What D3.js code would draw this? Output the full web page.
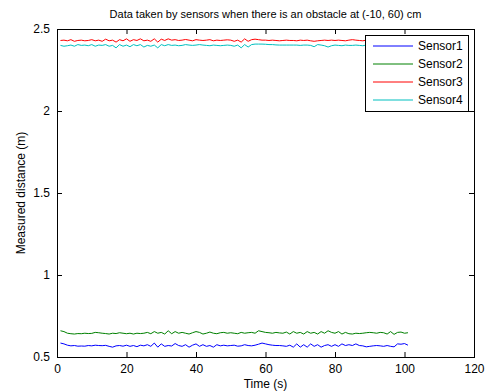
<!DOCTYPE html>
<html>
<head>
<meta charset="utf-8">
<script src="https://cdn.jsdelivr.net/npm/d3@7"></script>
<style>
  body { margin: 0; background: #fff; }
  text { font-family: "Liberation Sans", Arial, sans-serif; fill: #000; }
</style>
</head>
<body>
<svg id="chart" width="485" height="391"></svg>
<script>
// readings, one per second starting at t = 1
const sensor1 = [
  0.585,0.580,0.572,0.568,0.570,0.566,0.567,0.566,0.570,0.568,
  0.572,0.570,0.569,0.571,0.565,0.560,0.568,0.570,0.566,0.572,
  0.565,0.570,0.563,0.572,0.568,0.575,0.565,0.585,0.560,0.580,
  0.565,0.570,0.567,0.582,0.570,0.565,0.575,0.560,0.572,0.580,
  0.565,0.575,0.565,0.570,0.560,0.575,0.568,0.572,0.568,0.570,
  0.572,0.566,0.568,0.575,0.570,0.568,0.572,0.578,0.585,0.580,
  0.575,0.572,0.570,0.570,0.568,0.565,0.572,0.560,0.580,0.560,
  0.575,0.560,0.580,0.565,0.575,0.560,0.570,0.575,0.565,0.575,
  0.565,0.580,0.570,0.575,0.570,0.580,0.570,0.568,0.562,0.565,
  0.568,0.570,0.568,0.565,0.570,0.565,0.562,0.580,0.578,0.582,
  0.572
];
const sensor2 = [
  0.660,0.655,0.645,0.642,0.640,0.643,0.642,0.645,0.643,0.644,
  0.650,0.648,0.645,0.643,0.640,0.645,0.643,0.648,0.645,0.642,
  0.645,0.640,0.645,0.643,0.645,0.650,0.642,0.655,0.645,0.650,
  0.640,0.660,0.642,0.655,0.645,0.650,0.645,0.640,0.648,0.655,
  0.650,0.640,0.645,0.652,0.645,0.642,0.648,0.650,0.645,0.648,
  0.645,0.642,0.650,0.645,0.648,0.650,0.645,0.660,0.655,0.650,
  0.648,0.645,0.650,0.647,0.645,0.652,0.640,0.655,0.645,0.650,
  0.640,0.655,0.645,0.650,0.640,0.655,0.645,0.660,0.650,0.645,
  0.655,0.640,0.650,0.642,0.640,0.645,0.643,0.645,0.648,0.650,
  0.648,0.645,0.650,0.648,0.640,0.655,0.638,0.650,0.652,0.645,
  0.648
];
const sensor3 = [
  2.430,2.432,2.428,2.435,2.425,2.430,2.432,2.428,2.430,2.435,
  2.428,2.432,2.425,2.438,2.428,2.432,2.420,2.435,2.428,2.440,
  2.425,2.435,2.430,2.440,2.428,2.432,2.425,2.440,2.420,2.438,
  2.430,2.440,2.432,2.435,2.430,2.432,2.436,2.432,2.428,2.435,
  2.432,2.430,2.432,2.435,2.428,2.432,2.430,2.432,2.434,2.432,
  2.425,2.432,2.420,2.440,2.425,2.435,2.438,2.435,2.432,2.432,
  2.430,2.432,2.430,2.428,2.430,2.432,2.430,2.430,2.428,2.432,
  2.430,2.432,2.428,2.425,2.428,2.430,2.432,2.430,2.432,2.430,
  2.432,2.430,2.428,2.432,2.435,2.432,2.430,2.428,2.432,2.430,
  2.425,2.432,2.430,2.432,2.430,2.428,2.432,2.430,2.430,2.432,
  2.430
];
const sensor4 = [
  2.400,2.395,2.398,2.402,2.395,2.405,2.400,2.402,2.398,2.405,
  2.395,2.402,2.400,2.405,2.395,2.400,2.385,2.405,2.395,2.402,
  2.392,2.405,2.398,2.405,2.390,2.400,2.395,2.402,2.385,2.405,
  2.398,2.405,2.400,2.402,2.398,2.400,2.405,2.402,2.400,2.402,
  2.405,2.402,2.400,2.398,2.402,2.400,2.398,2.400,2.402,2.400,
  2.395,2.402,2.385,2.405,2.390,2.405,2.408,2.408,2.408,2.407,
  2.405,2.405,2.403,2.402,2.402,2.402,2.402,2.402,2.402,2.400,
  2.402,2.402,2.400,2.392,2.405,2.402,2.398,2.390,2.398,2.402,
  2.400,2.398,2.402,2.400,2.400,2.402,2.400,2.398,2.402,2.400,
  2.395,2.400,2.402,2.400,2.400,2.398,2.400,2.402,2.400,2.402,
  2.400
];
const seriesNames = ["Sensor1", "Sensor2", "Sensor3", "Sensor4"];
const seriesData = [sensor1, sensor2, sensor3, sensor4];
const xTicks = [0, 20, 40, 60, 80, 100, 120];
const yTicks = [0.5, 1, 1.5, 2, 2.5];
const colors = ["#0000ff", "#008000", "#ff0000", "#00bfbf"];

const margin = {top: 29, right: 11, bottom: 34, left: 57};
const width = 485 - margin.left - margin.right;
const height = 391 - margin.top - margin.bottom;

const svg = d3.select("#chart");
const g = svg.append("g").attr("transform", `translate(${margin.left},${margin.top})`);

const x = d3.scaleLinear().domain([0, 120]).range([0, width]);
const y = d3.scaleLinear().domain([0.5, 2.5]).range([height, 0]);

// lines
const line = d3.line().x((d, i) => x(i + 1)).y(d => y(d));
seriesData.forEach((s, k) => {
  g.append("path")
    .datum(s)
    .attr("fill", "none")
    .attr("stroke", colors[k])
    .attr("stroke-width", 1)
    .attr("d", line);
});

// axes, matlab style: ticks inside on all four sides
function styleAxis(sel) {
  sel.select(".domain").remove();
  sel.selectAll(".tick line").attr("stroke", "#000");
  sel.selectAll("text").style("font-size", "12px").attr("fill", "#000");
}
g.append("g").attr("transform", `translate(0,${height})`)
  .call(d3.axisBottom(x).tickValues(xTicks).tickSize(-5).tickPadding(7))
  .call(styleAxis);
g.append("g")
  .call(d3.axisTop(x).tickValues(xTicks).tickSize(-5).tickFormat(""))
  .call(styleAxis);
g.append("g")
  .call(d3.axisLeft(y).tickValues(yTicks).tickSize(-5).tickPadding(7).tickFormat(d3.format("")))
  .call(styleAxis);
g.append("g").attr("transform", `translate(${width},0)`)
  .call(d3.axisRight(y).tickValues(yTicks).tickSize(-5).tickFormat(""))
  .call(styleAxis);

g.append("rect")
  .attr("x", 0.5).attr("y", 0.5)
  .attr("width", width).attr("height", height)
  .attr("fill", "none").attr("stroke", "#000");

// titles
svg.append("text")
  .attr("x", margin.left + width / 2).attr("y", 18)
  .attr("text-anchor", "middle").style("font-size", "11px")
  .text("Data taken by sensors when there is an obstacle at (-10, 60) cm");
svg.append("text")
  .attr("x", margin.left + width / 2).attr("y", 388)
  .attr("text-anchor", "middle").style("font-size", "12px")
  .text("Time (s)");
svg.append("text")
  .attr("transform", `translate(25,${margin.top + height / 2}) rotate(-90)`)
  .attr("text-anchor", "middle").style("font-size", "12px")
  .text("Measured distance (m)");

// legend
const lg = svg.append("g").attr("transform", "translate(365,35)");
lg.append("rect")
  .attr("x", 0.5).attr("y", 0.5).attr("width", 103).attr("height", 76)
  .attr("fill", "#fff").attr("stroke", "#000");
seriesNames.forEach((name, k) => {
  const yy = 11 + k * 18;
  lg.append("line")
    .attr("x1", 8).attr("x2", 48).attr("y1", yy).attr("y2", yy)
    .attr("stroke", colors[k]);
  lg.append("text")
    .attr("x", 53).attr("y", yy + 4)
    .style("font-size", "12px")
    .text(name);
});
</script>
</body>
</html>
